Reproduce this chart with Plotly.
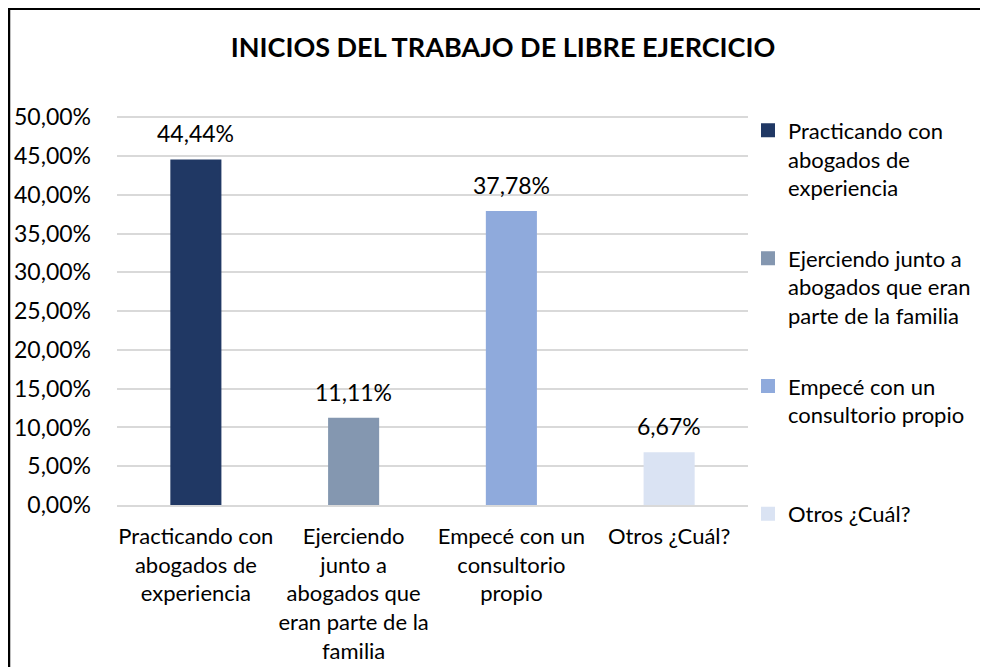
import plotly.graph_objects as go

categories = [
    "Practicando con<br>abogados de<br>experiencia",
    "Ejerciendo<br>junto a<br>abogados que<br>eran parte de la<br>familia",
    "Empecé con un<br>consultorio<br>propio",
    "Otros ¿Cuál?",
]
legend_names = [
    "Practicando con<br>abogados de<br>experiencia",
    "Ejerciendo junto a<br>abogados que eran<br>parte de la familia",
    "Empecé con un<br>consultorio propio<br> ",
    "Otros ¿Cuál?",
]
values = [0.4444, 0.1111, 0.3778, 0.0667]
colors = ["#203864", "#8497B0", "#8FAADC", "#DAE3F3"]
y_ticks = [0, 0.05, 0.10, 0.15, 0.20, 0.25, 0.30, 0.35, 0.40, 0.45, 0.50]

FONT = "Lato"
fig = go.Figure()
for i, (cat, name, v, c) in enumerate(zip(categories, legend_names, values, colors)):
    fig.add_trace(go.Bar(
        x=[cat], y=[v], name=name, marker_color=c,
        marker_line=dict(color=c, width=2), width=0.311,
        legendgroup=f"g{i}", hoverinfo="skip",
    ))
    fig.add_annotation(
        x=cat, y=v, text=f"{v*100:.2f}%".replace(".", ","),
        showarrow=False, yanchor="bottom", yshift=11,
        font=dict(family=FONT, size=23, color="#000000"),
    )

# page has an 8px body margin, so the figure is drawn 8px in from the window edge
W, H = 980, 659
Y_MAX = 0.503  # a hair above 50% so the top gridline is kept
L, R, T, B = 109, 240, 107.2, 162
pw, ph = W - L - R, H - T - B
lx = (1 - L) / pw
ty = (H - B - 1) / ph
fig.add_shape(type="path", xref="paper", yref="paper",
              path=f"M {lx} -1 L {lx} {ty} L 2 {ty}",
              line=dict(color="#000000", width=2.5))

fig.update_layout(
    width=W, height=H,
    margin=dict(l=L, r=R, t=T, b=B, autoexpand=False),
    paper_bgcolor="white", plot_bgcolor="white",
    barmode="overlay",
    separators=",.",
    font=dict(family=FONT, size=22, color="#000000"),
    title=dict(text="<b>INICIOS DEL TRABAJO DE LIBRE EJERCICIO</b>",
               x=495 / W, xanchor="center", y=1 - 40 / H, yanchor="middle",
               font=dict(family=FONT, size=27, color="#000000")),
    showlegend=True,
    legend=dict(x=1.0, xanchor="left", y=(H - B - 101.75) / ph, yanchor="top",
                valign="top", traceorder="grouped", tracegroupgap=39,
                maxheight=640,
                font=dict(family=FONT, size=22, color="#000000"),
                bgcolor="rgba(0,0,0,0)"),
    xaxis=dict(showgrid=False, showline=True, linecolor="#D9D9D9", linewidth=1.5,
               ticks="", tickfont=dict(family=FONT, size=22), automargin=False,
               ticklabelstandoff=11, fixedrange=True),
    yaxis=dict(range=[0, Y_MAX], tickvals=y_ticks, tickformat=".2%",
               showgrid=True, gridcolor="#D9D9D9", gridwidth=1.5, automargin=False,
               zeroline=False, showline=False, ticks="",
               tickfont=dict(family=FONT, size=23), ticklabelstandoff=25),
)

fig.write_html("out.html")
